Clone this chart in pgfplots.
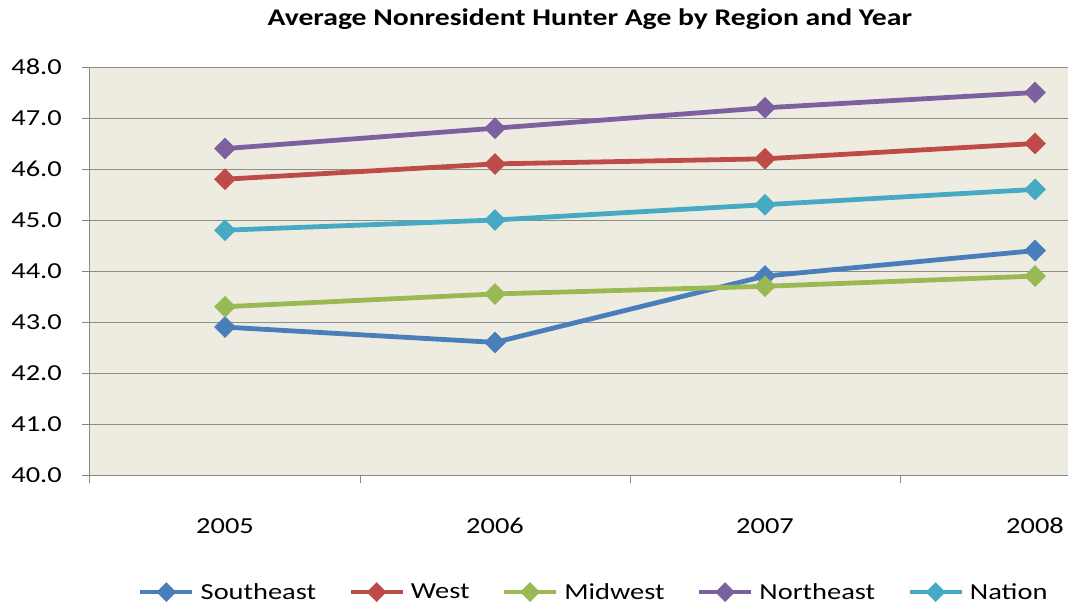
\documentclass[border=0pt]{standalone}
\usepackage{pgfplots}
\pgfplotsset{compat=1.18}
\usepackage{fontspec}
\setmainfont{Carlito}[FakeStretch=1.24]
\definecolor{cSE}{HTML}{4A7EBB}
\definecolor{cW}{HTML}{BE4B48}
\definecolor{cMW}{HTML}{98B954}
\definecolor{cNE}{HTML}{7D60A0}
\definecolor{cNa}{HTML}{46AAC5}
\definecolor{bgtan}{HTML}{EEECE1}
\definecolor{gridgray}{HTML}{8C8C8C}
\definecolor{axisgray}{HTML}{868686}
\begin{document}
\begin{tikzpicture}
\begin{axis}[
  scale only axis, width=978bp, height=408bp,
  xmin=-0.5, xmax=3.1222, ymin=40, ymax=48,
  axis x line*=bottom, axis y line*=left,
  axis line style={draw=axisgray, line width=1bp},
  axis background/.style={fill=bgtan},
  ytick={40,41,...,48},
  ymajorgrids, major grid style={draw=gridgray, line width=1bp},
  tick align=outside, major tick length=8bp,
  ytick style={draw=axisgray, line width=1bp},
  xtick={0,1,2,3}, xticklabels={2005,2006,2007,2008},
  xtick style={draw=none},
  extra x ticks={-0.5,0.5,1.5,2.5}, extra x tick labels={},
  extra x tick style={xtick style={draw=axisgray, line width=1bp}, xmajorgrids=false},
  font=\fontsize{23}{26}\selectfont,
  ticklabel style={font=\fontsize{23}{26}\selectfont, text=black},
  /pgf/number format/fixed, /pgf/number format/fixed zerofill,
  /pgf/number format/precision=1, /pgf/number format/assume math mode=true,
  yticklabel style={anchor=east, inner sep=0pt, xshift=-20bp},
  xticklabel style={anchor=base, inner sep=0pt, yshift=-50bp},
  title={Average Nonresident Hunter Age by Region and Year},
  title style={font=\bfseries\fontsize{24}{28}\selectfont, at={(0.511,1.088)}, anchor=base, inner sep=0pt},
  legend columns=5,
  legend style={draw=none, fill=none, at={(0.515,-0.287)}, anchor=center,
    font=\fontsize{23}{26}\selectfont,
    /tikz/every even column/.append style={column sep=30bp},
    /tikz/every odd column/.append style={column sep=4bp}},
  legend image code/.code={\draw[#1, mark repeat=2, mark phase=2, mark size=4.6bp] plot coordinates {(0bp,0bp) (26bp,0bp) (52bp,0bp)};},
  every axis plot/.append style={line width=4.8bp, mark=square*, mark size=5.3bp, mark options={rotate=45, solid}},
]
\addplot[color=cSE] coordinates {(0,42.9) (1,42.6) (2,43.9) (3,44.4)};
\addlegendentry{Southeast}
\addplot[color=cW] coordinates {(0,45.8) (1,46.1) (2,46.2) (3,46.5)};
\addlegendentry{West}
\addplot[color=cMW] coordinates {(0,43.3) (1,43.55) (2,43.7) (3,43.9)};
\addlegendentry{Midwest}
\addplot[color=cNE] coordinates {(0,46.4) (1,46.8) (2,47.2) (3,47.5)};
\addlegendentry{Northeast}
\addplot[color=cNa] coordinates {(0,44.8) (1,45.0) (2,45.3) (3,45.6)};
\addlegendentry{Nation}
\end{axis}
\pgfresetboundingbox
\useasboundingbox (-90bp,-134bp) rectangle (978bp,475bp);
\end{tikzpicture}
\end{document}
